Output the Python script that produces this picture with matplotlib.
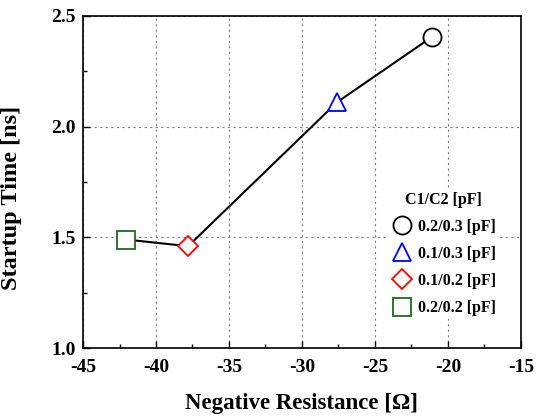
import matplotlib
matplotlib.use("Agg")
import matplotlib.pyplot as plt
from matplotlib.ticker import MultipleLocator

plt.rcParams['font.family'] = ['Liberation Serif', 'DejaVu Serif']
plt.rcParams['font.weight'] = 'bold'
plt.rcParams['axes.unicode_minus'] = False

x_vals = [-21.1, -27.6, -37.8, -42.05]
y_vals = [2.405, 2.11, 1.46, 1.49]
labels = ['0.2/0.3 [pF]', '0.1/0.3 [pF]', '0.1/0.2 [pF]', '0.2/0.2 [pF]']
markers = ['o', '^', 'D', 's']
colors = ['black', 'blue', 'red', '#1e6b1e']
sizes = [13, 13, 10, 13]

fig = plt.figure(figsize=(5.37, 4.2), dpi=100)
ax = fig.add_axes([0.1546, 0.1714, 0.8154, 0.7906])

ax.plot(x_vals, y_vals, color='black', lw=1.5, zorder=2)
for xv, yv, lb, m, c, s in zip(x_vals, y_vals, labels, markers, colors, sizes):
    ax.plot([xv], [yv], linestyle='none', marker=m, markersize=s,
            markerfacecolor='white', markeredgecolor=c, markeredgewidth=1.3,
            label=lb, zorder=3)

ax.set_xlim(-45, -15)
ax.set_ylim(1.0, 2.5)
ax.xaxis.set_major_locator(MultipleLocator(5))
ax.xaxis.set_minor_locator(MultipleLocator(2.5))
ax.yaxis.set_major_locator(MultipleLocator(0.5))
ax.yaxis.set_minor_locator(MultipleLocator(0.25))
ax.tick_params(which='both', direction='in', labelsize=14)
ax.tick_params(which='major', length=5, width=1)
ax.tick_params(which='minor', length=3, width=1)
ax.tick_params(axis='x', which='major', pad=8)
ax.tick_params(axis='y', which='major', pad=5)
for lab in ax.get_xticklabels() + ax.get_yticklabels():
    lab.set_fontweight('bold')
for sp in ax.spines.values():
    sp.set_linewidth(1.2)

ax.grid(True, which='major', color='gray', linestyle=(0, (2, 3)), lw=0.8)

ax.set_xlabel('Negative Resistance [Ω]', fontsize=16.5, fontweight='bold', labelpad=12)
ax.set_ylabel('Startup Time [ns]', fontsize=17.5, fontweight='bold')
ax.yaxis.set_label_coords(-0.139, 0.452)

leg = ax.legend(title='C1/C2 [pF]', loc='upper left', bbox_to_anchor=(0.68, 0.505),
                frameon=True, facecolor='white', edgecolor='none', framealpha=1,
                fontsize=11.5, title_fontsize=11.5, borderpad=0.2,
                handletextpad=0.4, labelspacing=0.7, handlelength=1.2)
leg.get_title().set_fontweight('bold')
for t in leg.get_texts():
    t.set_fontweight('bold')

fig.savefig('out.png', dpi=100)
